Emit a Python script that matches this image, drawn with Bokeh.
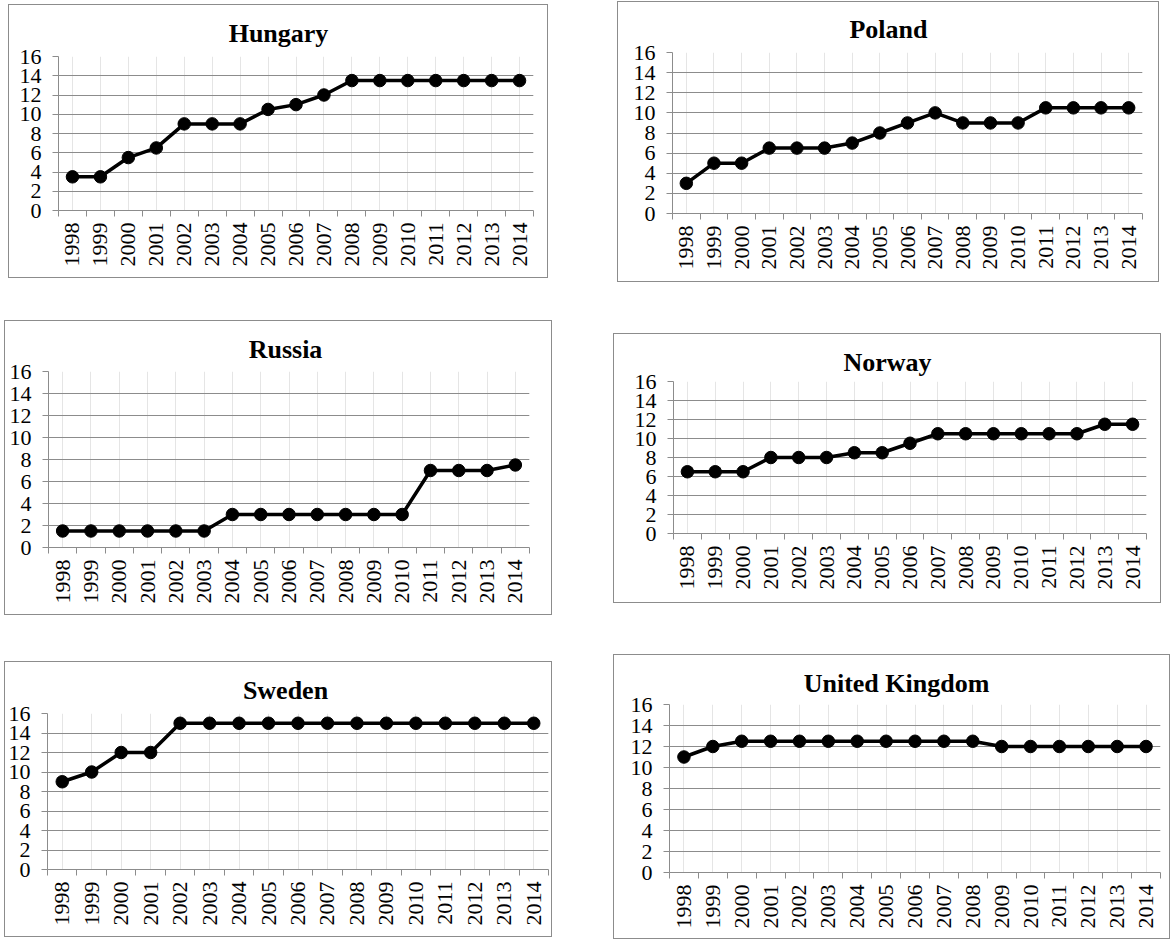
from math import pi
from bokeh.plotting import figure
from bokeh.models import (Range1d, FactorRange, LinearAxis, FixedTicker, Grid,
                          Spacer, CustomJSTickFormatter)
from bokeh.layouts import row, column
from bokeh.embed import file_html
from bokeh.resources import INLINE

# ---------------- data ----------------
years = ["1998", "1999", "2000", "2001", "2002", "2003", "2004", "2005", "2006",
         "2007", "2008", "2009", "2010", "2011", "2012", "2013", "2014"]
y_ticks = [0, 2, 4, 6, 8, 10, 12, 14, 16]

hungary = [3.5, 3.5, 5.5, 6.5, 9, 9, 9, 10.5, 11, 12, 13.5, 13.5, 13.5, 13.5, 13.5, 13.5, 13.5]
poland = [3, 5, 5, 6.5, 6.5, 6.5, 7, 8, 9, 10, 9, 9, 9, 10.5, 10.5, 10.5, 10.5]
russia = [1.5, 1.5, 1.5, 1.5, 1.5, 1.5, 3, 3, 3, 3, 3, 3, 3, 7, 7, 7, 7.5]
norway = [6.5, 6.5, 6.5, 8, 8, 8, 8.5, 8.5, 9.5, 10.5, 10.5, 10.5, 10.5, 10.5, 10.5, 11.5, 11.5]
sweden = [9, 10, 12, 12, 15, 15, 15, 15, 15, 15, 15, 15, 15, 15, 15, 15, 15]
united_kingdom = [11, 12, 12.5, 12.5, 12.5, 12.5, 12.5, 12.5, 12.5, 12.5, 12.5, 12, 12, 12, 12, 12, 12]

# ---------------- style ----------------
GRID = "#8c8c8c"
BORDER = "#8c8c8c"
FONT = "Liberation Serif"
TICK_SIZE = "22px"
TITLE_PX = 26

# Times-Bold advance widths (1/1000 em) for centring the titles
TB = {" ": 250, "H": 778, "K": 778, "N": 722, "P": 611, "R": 722, "S": 556, "U": 722,
      "a": 500, "d": 556, "e": 444, "g": 500, "i": 278, "l": 278, "m": 833, "n": 556,
      "o": 500, "r": 444, "s": 389, "t": 333, "u": 556, "w": 722, "y": 500}


def text_width(s, px):
    return sum(TB.get(c, 500) for c in s) * px / 1000.0


def make_panel(title, values, box, frame, title_cx, title_base):
    bx0, by0, bx1, by1 = box
    fx0, fy0, fx1, fy1 = frame
    w = bx1 - bx0 - 1
    h = by1 - by0 - 1
    cx0, cy0 = bx0 + 1, by0 + 1  # canvas origin (inside 1px border)
    left = fx0 - cx0
    right = cx0 + w - fx1
    top = fy0 - cy0
    bottom = cy0 + h - fy1

    p = figure(width=w, height=h,
               x_range=FactorRange(factors=years, range_padding=0),
               y_range=Range1d(0, 16),
               output_backend="svg", toolbar_location=None,
               x_axis_location=None, y_axis_location=None,
               min_border_left=left, min_border_right=right,
               min_border_top=top, min_border_bottom=bottom,
               background_fill_color="white", border_fill_color="white",
               outline_line_color=None,
               styles={"border": "1px solid " + BORDER})

    # title
    p.title.text = title
    p.title.text_font = FONT
    p.title.text_font_style = "bold"
    p.title.text_font_size = f"{TITLE_PX}px"
    p.title.text_color = "black"
    p.title.align = "left"
    p.title.offset = (title_cx - fx0) - text_width(title, TITLE_PX) / 2
    p.title.standoff = max(0, 2 * ((fy0 - title_base) - 5.6))

    # y axis + grid
    yax = LinearAxis(ticker=FixedTicker(ticks=y_ticks),
                     axis_line_color=GRID, major_tick_line_color=GRID,
                     major_tick_out=6, major_tick_in=0,
                     minor_tick_line_color=None,
                     major_label_standoff=11,
                     major_label_text_font=FONT,
                     major_label_text_font_size=TICK_SIZE,
                     major_label_text_color="black")
    p.add_layout(yax, "left")
    p.add_layout(Grid(dimension=1, ticker=FixedTicker(ticks=y_ticks),
                      grid_line_color=GRID, grid_line_width=1))

    # x axis on the factor range's synthetic coordinates:
    # labels at the category centres, tick marks at the category boundaries
    n = len(years)
    centres = [i + 0.5 for i in range(n)]
    edges = list(range(n + 1))
    xax = LinearAxis(ticker=FixedTicker(ticks=centres, minor_ticks=edges),
                     formatter=CustomJSTickFormatter(
                         args=dict(labels=years),
                         code="return labels[Math.floor(tick)];"),
                     axis_line_color=GRID,
                     major_tick_line_color=None, major_tick_out=0, major_tick_in=0,
                     minor_tick_line_color=GRID, minor_tick_out=6, minor_tick_in=0,
                     major_label_orientation=pi / 2,
                     major_label_standoff=6,
                     major_label_text_font=FONT,
                     major_label_text_font_size=TICK_SIZE,
                     major_label_text_color="black")
    p.add_layout(xax, "below")

    p.line(x=years, y=values, line_color="black", line_width=3.5)
    p.scatter(x=years, y=values, size=12.5, fill_color="black", line_color="black")
    return p


def place(p, box, col_x, col_w):
    bx0, _, bx1, _ = box
    items = []
    if bx0 - col_x > 0:
        items.append(Spacer(width=bx0 - col_x, height=1))
    items.append(p)
    rest = col_x + col_w - (bx1 + 1)
    if rest > 0:
        items.append(Spacer(width=rest, height=1))
    return row(*items, spacing=0)


def build_column(panels, col_x, col_w):
    items = []
    cur = 0
    for p, box in panels:
        gap = box[1] - cur
        if gap > 0:
            items.append(Spacer(width=col_w, height=gap))
        items.append(place(p, box, col_x, col_w))
        cur = box[3] + 1
    return column(*items, spacing=0)


# boxes: (x0, y0, x1, y1); frames: (left, top, right, bottom) in page pixels
hu_box, hu_frame = (8, 4, 549, 279), (58, 56, 533, 210)
pl_box, pl_frame = (617, 1, 1160, 283), (672, 52, 1142, 213)
ru_box, ru_frame = (4, 322, 553, 618), (48, 373, 529, 549)
no_box, no_frame = (613, 335, 1162, 606), (673, 383, 1146, 535)
se_box, se_frame = (4, 665, 553, 942), (47, 717, 548, 873)
uk_box, uk_frame = (613, 658, 1171, 944), (669, 708, 1160, 876)

p_hu = make_panel("Hungary", hungary, hu_box, hu_frame, 278, 42)
p_pl = make_panel("Poland", poland, pl_box, pl_frame, 888, 38)
p_ru = make_panel("Russia", russia, ru_box, ru_frame, 285, 360)
p_no = make_panel("Norway", norway, no_box, no_frame, 887, 373)
p_se = make_panel("Sweden", sweden, se_box, se_frame, 285, 703)
p_uk = make_panel("United Kingdom", united_kingdom, uk_box, uk_frame, 896, 696)

left_col = build_column([(p_hu, hu_box), (p_ru, ru_box), (p_se, se_box)], 0, 590)
right_col = build_column([(p_pl, pl_box), (p_no, no_box), (p_uk, uk_box)], 590, 583)
layout = row(left_col, right_col, spacing=0)

open("out.html", "w").write(file_html(layout, INLINE))
